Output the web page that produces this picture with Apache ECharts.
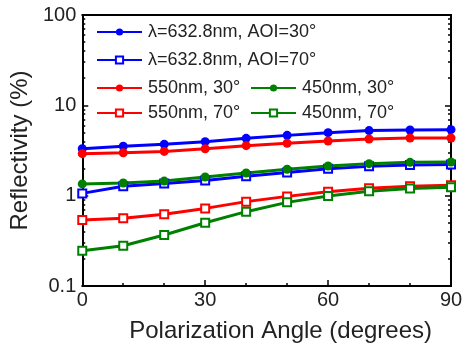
<!DOCTYPE html>
<html>
<head>
<meta charset="utf-8">
<script src="https://cdn.jsdelivr.net/npm/echarts@6/dist/echarts.min.js"></script>
<style>
  html, body { margin: 0; padding: 0; background: #fff; }
  #chart { width: 468px; height: 348px; }
</style>
</head>
<body>
<div id="chart"></div>
<script>
// 偏振角 (degrees)
const angles = [0, 10, 20, 30, 40, 50, 60, 70, 80, 90];

// 反射率 (%)
const r632_30 = [3.31, 3.52, 3.70, 3.96, 4.31, 4.65, 4.98, 5.25, 5.34, 5.38];
const r632_70 = [1.06, 1.27, 1.36, 1.47, 1.64, 1.81, 1.99, 2.11, 2.19, 2.22];
const r550_30 = [2.92, 2.99, 3.09, 3.31, 3.58, 3.80, 4.03, 4.24, 4.35, 4.35];
const r550_70 = [0.538, 0.561, 0.621, 0.723, 0.859, 0.982, 1.107, 1.205, 1.27, 1.30];
const r450_30 = [1.35, 1.38, 1.45, 1.61, 1.78, 1.96, 2.13, 2.26, 2.34, 2.36];
const r450_70 = [0.246, 0.279, 0.367, 0.502, 0.665, 0.843, 0.99, 1.12, 1.20, 1.24];

const names = [
    'λ=632.8nm, AOI=30°',
    'λ=632.8nm, AOI=70°',
    '550nm, 30°',
    '450nm, 30°',
    '550nm, 70°',
    '450nm, 70°'
];
const yTicks = [0.1, 1, 10, 100];
const yMinorTicks = [0.2, 0.3, 0.4, 0.5, 0.6, 0.7, 0.8, 0.9, 2, 3, 4, 5, 6, 7, 8, 9, 20, 30, 40, 50, 60, 70, 80, 90];

const FONT = 'Liberation Sans, Arial, sans-serif';

function pairs(ys) {
    return angles.map((x, i) => [x, ys[i]]);
}

function makeSeries(name, data, color, hollow) {
    return {
        name: name,
        type: 'line',
        data: pairs(data),
        symbol: hollow ? 'rect' : 'circle',
        symbolSize: hollow ? 8 : 9,
        lineStyle: { color: color, width: 3 },
        itemStyle: {
            color: hollow ? '#fff' : color,
            borderColor: color,
            borderWidth: hollow ? 2 : 0
        },
        z: 3
    };
}

// 图例位置
const legendPos = [
    { left: 96, top: 23 },
    { left: 96, top: 51 },
    { left: 96, top: 79 },
    { left: 250, top: 79 },
    { left: 96, top: 104 },
    { left: 250, top: 104 }
];

function yAxisBase(pos, minor) {
    return {
        type: 'log',
        logBase: 10,
        min: 0.1,
        max: 100,
        position: pos,
        axisLine: { show: true, lineStyle: { color: '#000', width: 2 } },
        axisTick: {
            show: true,
            inside: true,
            length: minor ? 3 : 6,
            lineStyle: { color: '#000', width: 1.5 },
            customValues: minor ? yMinorTicks : yTicks
        },
        axisLabel: {
            show: pos === 'left' && !minor,
            customValues: yTicks,
            margin: 6,
            fontSize: 20,
            fontFamily: FONT,
            color: '#222',
            formatter: v => String(v)
        },
        splitLine: { show: false }
    };
}

const chart = echarts.init(document.getElementById('chart'), null, { renderer: 'canvas' });

chart.setOption({
    backgroundColor: '#fff',
    animation: false,
    grid: { left: 81, right: 17, top: 15, bottom: 62 },
    legend: names.map((n, i) => ({
        data: [n],
        left: legendPos[i].left,
        top: legendPos[i].top,
        itemWidth: 45,
        itemHeight: 9,
        itemGap: 0,
        padding: 0,
        textStyle: { fontSize: 18, fontFamily: FONT, color: '#222', padding: [0, 0, 0, 1] }
    })),
    xAxis: [{
        type: 'value',
        min: 0,
        max: 90,
        interval: 30,
        position: 'bottom',
        name: 'Polarization Angle (degrees)',
        nameLocation: 'middle',
        nameGap: 33,
        nameTextStyle: { fontSize: 24, fontFamily: FONT, color: '#222', padding: [0, 0, 0, 28] },
        axisLine: { lineStyle: { color: '#000', width: 2 } },
        axisTick: { inside: true, length: 6, lineStyle: { color: '#000', width: 1.5 } },
        minorTick: { show: true, splitNumber: 3, length: 3, lineStyle: { color: '#000', width: 1.5 } },
        axisLabel: { margin: 4, fontSize: 20, fontFamily: FONT, color: '#222' },
        splitLine: { show: false }
    }, {
        type: 'value',
        min: 0,
        max: 90,
        position: 'top',
        axisLine: { show: true, lineStyle: { color: '#000', width: 2 } },
        axisTick: { show: false },
        axisLabel: { show: false },
        splitLine: { show: false }
    }],
    yAxis: [
        Object.assign(yAxisBase('left', false), {
            name: 'Reflectivity (%)',
            nameLocation: 'middle',
            nameGap: 41,
            nameTextStyle: { fontSize: 24, fontFamily: FONT, color: '#222' }
        }),
        yAxisBase('left', true),
        yAxisBase('right', false),
        yAxisBase('right', true)
    ],
    series: [
        makeSeries(names[0], r632_30, '#0000ff', false),
        makeSeries(names[1], r632_70, '#0000ff', true),
        makeSeries(names[2], r550_30, '#ff0000', false),
        makeSeries(names[3], r450_30, '#008000', false),
        makeSeries(names[4], r550_70, '#ff0000', true),
        makeSeries(names[5], r450_70, '#008000', true)
    ]
});
</script>
</body>
</html>
